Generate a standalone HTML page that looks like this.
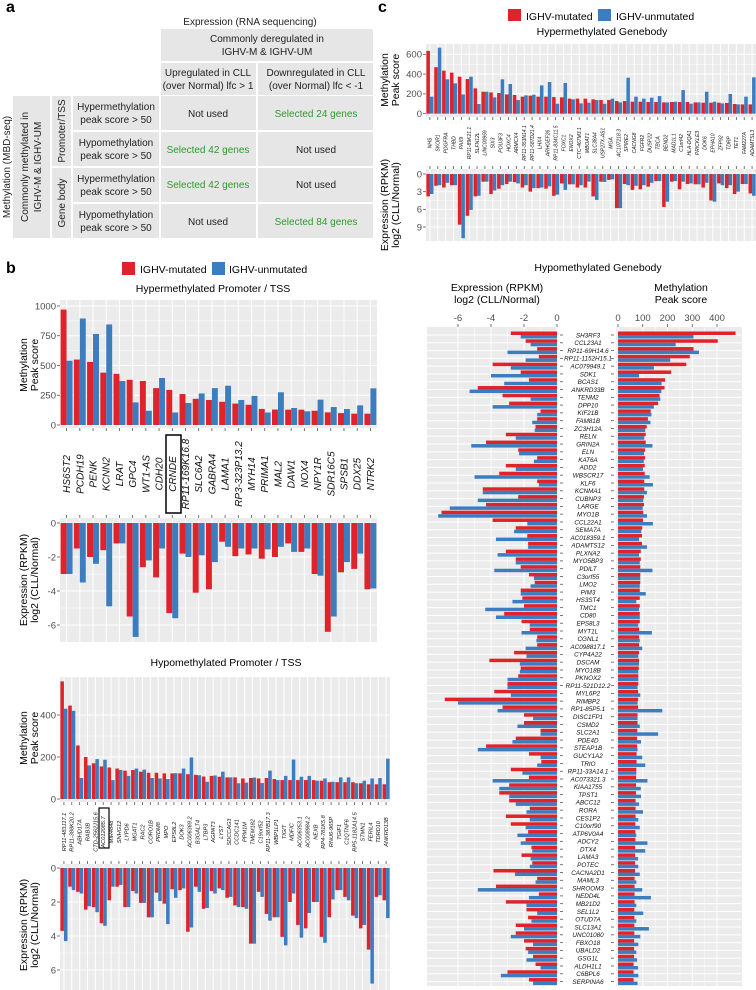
<!DOCTYPE html>
<html><head><meta charset="utf-8"><title>Methylation vs expression figure</title>
<style>
html,body{margin:0;padding:0;background:#fff;}
svg{display:block;font-family:"Liberation Sans",Arial,sans-serif;}
.tk{fill:#4d4d4d;font-size:9.5px;}
.ttl{fill:#000;font-size:10.5px;}
.cell{fill:#e6e6e6;}
.tb{font-size:10px;fill:#222;}
.gr{font-size:10px;fill:#2e9a2e;}
</style></head>
<body>
<svg id="fig" width="756" height="990" viewBox="0 0 756 990" xmlns="http://www.w3.org/2000/svg">
<g>
<text x="6" y="12" font-size="16" font-weight="bold">a</text>
<text x="250" y="25" text-anchor="middle" class="tb">Expression (RNA sequencing)</text>
<rect class="cell" x="161" y="29" width="212" height="32"/>
<text x="267" y="42" text-anchor="middle" class="tb">Commonly deregulated in</text>
<text x="267" y="55" text-anchor="middle" class="tb">IGHV-M &amp; IGHV-UM</text>
<rect class="cell" x="161" y="63" width="95" height="32"/>
<text x="208" y="76" text-anchor="middle" class="tb">Upregulated in CLL</text>
<text x="208" y="89" text-anchor="middle" class="tb">(over Normal) lfc &gt; 1</text>
<rect class="cell" x="258" y="63" width="115" height="32"/>
<text x="316" y="76" text-anchor="middle" class="tb">Downregulated in CLL</text>
<text x="316" y="89" text-anchor="middle" class="tb">(over Normal) lfc &lt; -1</text>
<text transform="translate(10,167) rotate(-90)" text-anchor="middle" class="tb">Methylation (MBD-seq)</text>
<rect class="cell" x="13" y="96" width="37" height="142"/>
<text transform="translate(28,167) rotate(-90)" text-anchor="middle" class="tb">Commonly methylated in</text>
<text transform="translate(41,167) rotate(-90)" text-anchor="middle" class="tb">IGHV-M &amp; IGHV-UM</text>
<rect class="cell" x="52" y="96" width="19" height="70"/>
<text transform="translate(65,131) rotate(-90)" text-anchor="middle" class="tb">Promoter/TSS</text>
<rect class="cell" x="52" y="168" width="19" height="70"/>
<text transform="translate(65,203) rotate(-90)" text-anchor="middle" class="tb">Gene body</text>
<g>
<rect class="cell" x="73" y="96" width="86" height="34"/><text x="116" y="110" text-anchor="middle" class="tb">Hypermethylation</text><text x="116" y="123" text-anchor="middle" class="tb">peak score &gt; 50</text>
<rect class="cell" x="161" y="96" width="95" height="34"/><text x="208" y="117" text-anchor="middle" class="tb">Not used</text>
<rect class="cell" x="258" y="96" width="115" height="34"/><text x="316" y="117" text-anchor="middle" class="gr">Selected 24 genes</text>
<rect class="cell" x="73" y="132" width="86" height="34"/><text x="116" y="146" text-anchor="middle" class="tb">Hypomethylation</text><text x="116" y="159" text-anchor="middle" class="tb">peak score &gt; 50</text>
<rect class="cell" x="161" y="132" width="95" height="34"/><text x="208" y="153" text-anchor="middle" class="gr">Selected 42 genes</text>
<rect class="cell" x="258" y="132" width="115" height="34"/><text x="316" y="153" text-anchor="middle" class="tb">Not used</text>
<rect class="cell" x="73" y="168" width="86" height="34"/><text x="116" y="182" text-anchor="middle" class="tb">Hypermethylation</text><text x="116" y="195" text-anchor="middle" class="tb">peak score &gt; 50</text>
<rect class="cell" x="161" y="168" width="95" height="34"/><text x="208" y="188" text-anchor="middle" class="gr">Selected 42 genes</text>
<rect class="cell" x="258" y="168" width="115" height="34"/><text x="316" y="188" text-anchor="middle" class="tb">Not used</text>
<rect class="cell" x="73" y="204" width="86" height="34"/><text x="116" y="218" text-anchor="middle" class="tb">Hypomethylation</text><text x="116" y="231" text-anchor="middle" class="tb">peak score &gt; 50</text>
<rect class="cell" x="161" y="204" width="95" height="34"/><text x="208" y="225" text-anchor="middle" class="tb">Not used</text>
<rect class="cell" x="258" y="204" width="115" height="34"/><text x="316" y="225" text-anchor="middle" class="gr">Selected 84 genes</text>
</g>
</g>
<text x="6" y="273" font-size="16" font-weight="bold">b</text>
<rect x="122" y="262" width="13" height="13" fill="#E0222A"/>
<text x="140" y="273" class="ttl">IGHV-mutated</text>
<rect x="212" y="262" width="13" height="13" fill="#3B7DBF"/>
<text x="229" y="273" class="ttl">IGHV-unmutated</text>
<text x="213" y="292" text-anchor="middle" class="ttl">Hypermethylated Promoter / TSS</text>
<text x="226" y="666" text-anchor="middle" class="ttl">Hypomethylated Promoter / TSS</text>
<text x="378" y="12" font-size="16" font-weight="bold">c</text>
<rect x="508" y="9" width="13" height="12" fill="#E0222A"/>
<text x="526" y="20" class="ttl">IGHV-mutated</text>
<rect x="598" y="9" width="13" height="12" fill="#3B7DBF"/>
<text x="616" y="20" class="ttl">IGHV-unmutated</text>
<text x="602" y="35" text-anchor="middle" class="ttl">Hypermethylated Genebody</text>
<text x="598" y="271" text-anchor="middle" class="ttl">Hypomethylated Genebody</text>
<text x="497" y="291" text-anchor="middle" class="ttl">Expression (RPKM)</text>
<text x="497" y="303" text-anchor="middle" class="ttl">log2 (CLL/Normal)</text>
<text x="681" y="291" text-anchor="middle" class="ttl">Methylation</text>
<text x="681" y="303" text-anchor="middle" class="ttl">Peak score</text>
</svg>
<script>
const bHyperGenes = ["HS6ST2","PCDH19","PENK","KCNN2","LRAT","GPC4","WT1-AS","CDH20","CRNDE","RP11-169K16.8","SLC6A2","GABRA4","LAMA1","RP3-323P13.2","MYH14","PRIMA1","MAL2","DAW1","NOX4","NPY1R","SDR16C5","SPSB1","DDX25","NTRK2"];
const bHyperMethRed = [970,550,530,440,430,380,370,310,295,260,220,210,195,180,170,135,130,129,129,120,106,100,95,95];
const bHyperMethBlue = [540,895,765,845,370,190,120,395,105,185,265,310,330,210,245,105,275,143,115,213,151,134,165,308];
const bHyperExprRed = [-3.0,-1.5,-2.0,-1.6,-1.2,-5.5,-2.6,-3.2,-5.3,-1.8,-4.1,-3.9,-1.1,-1.95,-1.85,-2.1,-2.0,-1.2,-1.7,-3.0,-6.4,-2.9,-2.7,-3.9];
const bHyperExprBlue = [-3.0,-3.5,-2.4,-4.9,-1.2,-6.7,-2.2,-1.5,-5.6,-2.0,-1.9,-2.3,-1.4,-1.5,-1.5,-1.55,-1.4,-1.7,-1.5,-3.1,-5.5,-2.3,-1.8,-3.85];
const bHyperMethTicks = [0,250,500,750,1000];
const bHyperExprTicks = [0,-2,-4,-6];
const bHypoGenes = ["RP11-483J17.1","RP11-388K20.2","ABHD17A","RAB3B","CTD-2562J15.6","AC012085.7","MIR4848","SNHG12","LYPD6","MGAT1","RAC2","CORO1B","PRDM8","MPO","EPS8L2","DOK3","AC006369.2","B3GALT4","LTBP3","AGPAT3","LYST","SDCCAG3","CCDC141","PPM1M","TMEM182","C19orf52","RP11-387B17.3","WBP1LP1","TIGIT","MDFIC","AC006353.1","AC008984.2","NEXB","RP4-781K5.8","RNU6-965P","TGIF1","C1QTNF6","RP5-1182A14.5","STMN1","FERIL4","TDRD10","ANKRD13B"];
const bHypoMethRed = [560,445,255,200,170,155,150,145,135,138,130,125,125,122,122,122,118,115,107,110,106,103,103,98,100,98,100,95,90,90,90,90,90,87,80,80,80,80,75,70,70,70];
const bHypoMethBlue = [430,420,100,160,190,187,90,138,110,145,140,100,98,95,123,145,198,113,82,112,130,103,75,78,102,76,135,90,110,188,106,110,87,98,82,103,103,75,87,98,100,192];
const bHypoExprRed = [3.7,1.1,1.4,2.45,2.3,3.25,1.9,1.1,2.3,1.35,2.05,2.9,1.45,2.1,1.25,1.3,3.75,1.1,2.4,1.35,1.2,1.75,2.2,2.3,4.45,1.4,2.7,2.9,4.05,2.0,3.35,3.55,2.0,4.05,2.9,1.3,1.7,2.8,3.55,4.8,1.7,1.9];
const bHypoExprBlue = [4.3,1.3,1.5,2.25,2.6,3.4,1.1,1.0,2.3,1.5,2.05,2.9,1.95,3.3,1.75,1.2,3.5,1.4,2.35,1.5,1.3,1.7,2.3,2.4,4.45,1.7,3.1,2.9,4.55,1.5,4.1,2.65,2.0,4.4,1.85,1.3,1.9,2.95,3.35,6.8,1.6,2.95];
const bHypoMethTicks = [0,200,400];
const bHypoExprTicks = [0,2,4,6];
const cHyperGenes = ["NHS","SKOR1","PDGFRA","THBD","PAX9","RP11-89K21.1","SLFN12L","LINC00959","SIX3","POU3F3","HOXC4","ARMCX4","RP11-353N14.1","RP11-587D21.4","LHX4","ARHGEF26","RP11-834C11.5","FOXC1","ENOX2","CTC-467M3.1","MBOAT1","SLC38A4","USP27X-AS1","MGA","AC107218.3","SPIRE2","CACNG8","FGFR2","DUSP22","TBCA","BEND2","MAD1L1","C1orf42","HLA-DQA1","PRICKLE3","DOK6","EPHA10","ZFP92","TDRP","TET1","FAM227A","ADAMTSL3"];
const cHyperMethRed = [635,470,435,415,374,350,256,222,215,209,195,189,172,182,172,172,168,165,152,152,152,145,138,138,128,128,121,121,118,118,114,118,118,118,114,111,111,111,108,98,94,94];
const cHyperMethBlue = [172,667,347,306,195,374,98,222,165,347,300,138,185,192,286,320,101,310,145,104,111,138,101,152,114,364,172,152,162,178,114,121,239,101,114,222,121,104,199,94,172,367];
const cHyperExprRed = [3.8,2.0,2.3,1.9,8.6,7.1,3.8,1.3,3.4,2.5,1.7,1.4,2.3,3.0,2.4,2.5,3.7,1.6,1.75,2.3,2.3,3.8,1.3,1.0,5.8,1.7,2.7,2.6,2.15,1.2,5.6,1.3,2.6,1.7,1.75,2.3,4.5,1.6,2.4,3.4,1.7,3.3];
const cHyperExprBlue = [3.4,1.9,1.5,1.9,10.9,6.1,3.7,1.3,2.8,1.9,1.3,1.6,1.9,2.4,2.3,2.1,3.5,2.7,1.75,1.9,1.3,4.4,1.35,0.9,5.8,1.9,2.0,1.9,1.5,1.2,4.7,1.2,1.3,1.6,1.75,1.5,4.7,1.9,1.9,3.0,1.7,3.7];
const cHyperMethTicks = [0,200,400,600];
const cHyperExprTicks = [0,3,6,9];
const cHypoGenes = ["SH3RF3","CCL23A1","RP11-69H14.6","RP11-1152H15.1","AC079949.1","SDK1","BCAS1","ANKRD33B","TENM2","DPP10","KIF21B","FAM81B","ZC3H12A","RELN","GRIN2A","ELN","KAT6A","ADD2","WBSCR17","KLF6","KCNMA1","CUBNP3","LARGE","MYO1B","CCL22A1","SEMA7A","AC018359.1","ADAMTS12","PLXNA2","MYO5BP3","PDILT","C3orf55","LMO2","PIM3","HS3ST4","TMC1","CD80","EPS8L3","MYT1L","CGNL1","AC098817.1","CYP4A22","DSCAM","MYO18B","PKNOX2","RP11-521D12.2","MYL6P2","RIMBP2","RP1-85P5.1","DISC1FP1","CSMD2","SLC2A1","PDE4D","STEAP1B","GUCY1A2","TRIO","RP11-33A14.1","AC073321.3","KIAA1755","TPST1","ABCC12","RORA","CES1P2","C10orf90","ATP6V0A4","ADCY2","DTX4","LAMA3","POTEC","CACNA2D1","MAML3","SHROOM3","NEDD4L","MB21D2","SEL1L2","OTUD7A","SLC13A1","UNC01080","FBXO18","UBALD2","GSG1L","ALDH1L1","C6BPL6","SERPINA6"];
const cHypoExprRed = [-2.8,-1.9,-1.2,-1.1,-3.9,-2.2,-1.7,-4.8,-3.3,-2.9,-1.0,-1.2,-1.3,-3.1,-4.3,-2.35,-1.2,-3.1,-3.5,-1.2,-4.5,-2.35,-4.3,-7.0,-3.9,-2.5,-1.8,-1.75,-3.1,-2.5,-2.2,-1.7,-1.35,-2.2,-2.1,-2.0,-3.2,-2.15,-1.65,-1.2,-1.2,-2.6,-4.1,-2.2,-2.35,-3.0,-3.8,-6.8,-3.3,-2.0,-2.0,-1.0,-2.5,-4.3,-1.7,-0.95,-2.8,-1.7,-2.9,-3.5,-2.9,-1.65,-3.1,-2.8,-1.75,-1.9,-1.55,-2.15,-1.5,-3.85,-1.2,-3.7,-1.1,-3.1,-1.85,-1.75,-2.5,-2.5,-2.0,-1.9,-1.45,-1.3,-3.0,-1.7];
const cHypoExprBlue = [-2.2,-1.6,-3.0,-1.9,-2.8,-4.0,-3.2,-5.3,-1.6,-3.9,-1.2,-1.5,-1.35,-2.5,-5.2,-2.3,-1.4,-2.5,-5.0,-1.1,-4.5,-4.8,-6.5,-7.2,-1.8,-2.6,-3.7,-1.75,-3.6,-2.5,-3.8,-1.4,-1.6,-2.2,-2.7,-4.35,-3.7,-1.65,-2.15,-1.25,-1.9,-1.85,-2.25,-2.25,-3.0,-3.0,-2.8,-6.0,-3.6,-1.45,-2.4,-1.0,-2.7,-4.8,-1.0,-1.2,-2.1,-3.9,-3.5,-2.9,-2.5,-1.85,-1.65,-1.9,-2.4,-2.2,-1.5,-1.6,-1.65,-2.55,-1.3,-4.8,-1.7,-1.85,-1.2,-1.55,-2.0,-2.8,-1.45,-1.75,-1.85,-1.0,-3.4,-1.45];
const cHypoMethRed = [475,403,305,290,276,215,190,188,168,162,132,121,116,112,112,109,109,108,108,106,106,105,105,102,101,98,97,97,92,92,90,90,90,88,88,88,88,88,85,85,85,85,85,84,82,82,81,81,81,79,79,78,77,77,75,75,74,73,73,73,71,71,71,70,70,70,69,69,69,69,67,67,67,67,66,66,66,66,65,65,65,63,63,63];
const cHypoMethBlue = [305,233,327,211,145,85,176,175,171,145,135,131,110,106,139,105,104,101,128,141,117,102,100,117,141,94,85,117,85,88,139,90,88,112,74,85,88,82,137,88,98,82,85,82,82,79,90,79,179,79,88,162,93,79,98,110,74,119,92,93,85,101,82,88,74,119,110,81,82,88,74,98,133,74,102,74,125,90,82,74,77,81,82,79];
const cHypoExprTicks = [-6,-4,-2,0];
const cHypoMethTicks = [0,100,200,300,400];

const NS = "http://www.w3.org/2000/svg";
const svg = document.getElementById('fig');
const RED = "#E0222A", BLUE = "#3B7DBF", BG = "#EBEBEB";
function mk(tag, a, parent){const e=document.createElementNS(NS,tag);for(const k in a)e.setAttribute(k,a[k]);(parent||svg).appendChild(e);return e;}
function txt(x,y,s,a,parent){const e=mk('text',Object.assign({x:x,y:y},a||{}),parent);e.textContent=s;return e;}
function lin(d0,d1,r0,r1){return function(v){return r0+(v-d0)*(r1-r0)/(d1-d0);};}

function vchart(o){
  const g = mk('g',{});
  
  
  const bg = mk('rect',{x:o.x0,y:o.y0,width:o.x1-o.x0,height:o.y1-o.y0,fill:BG},g);
  
  
  const s = lin(o.d0,o.d1,o.r0,o.r1);
  for(let i=0;i<o.ticks.length-1;i++){
    const y = s((o.ticks[i]+o.ticks[i+1])/2);
    if(y>o.y0 && y<o.y1) mk('line',{x1:o.x0,x2:o.x1,y1:y,y2:y,stroke:'#fff','stroke-width':0.5},g);
  }
  const n = o.genes.length, band=(o.x1-o.x0)/n, bw=band*0.45;
  for(let i=0;i<n;i++){const cx=o.x0+(i+0.5)*band;mk('line',{x1:cx,x2:cx,y1:o.y0,y2:o.y1,stroke:'#fff','stroke-width':1},g);}
  o.ticks.forEach(function(t){
    const y=s(t);
    mk('line',{x1:o.x0,x2:o.x1,y1:y,y2:y,stroke:'#fff','stroke-width':1},g);
    mk('line',{x1:o.x0-3,x2:o.x0,y1:y,y2:y,stroke:'#555','stroke-width':0.8},g);
    const lb = txt(o.x0-4,y+3.3,String(t),{'text-anchor':'end','class':'tk'},g);
    
    
  });
  const z = s(0);
  for(let i=0;i<n;i++){
    const cx=o.x0+(i+0.5)*band;
    const yr=s(o.red[i]), yb=s(o.blue[i]);
    const r = mk('rect',{x:cx-bw,y:Math.min(z,yr),width:bw,height:Math.abs(yr-z),fill:RED},g);
    
    
    const b = mk('rect',{x:cx,y:Math.min(z,yb),width:bw,height:Math.abs(yb-z),fill:BLUE},g);
    
    
    const ty = o.tickSide==='top'? o.y0 : o.y1;
    mk('line',{x1:cx,x2:cx,y1:o.tickSide==='top'?ty-3:ty,y2:o.tickSide==='top'?ty:ty+3,stroke:'#555','stroke-width':0.8},g);
    if(o.labelY){
      const t = txt(0,0,o.genes[i],{transform:'translate('+(cx+o.lfs*0.35)+','+o.labelY+') rotate(-90)','text-anchor':'middle','font-style':'italic','font-size':o.lfs,fill:'#111'},g);
      
      
    }
  }
  if(o.title){
    const t1 = txt(0,0,o.title[0],{transform:'translate('+o.titleX+','+o.titleY+') rotate(-90)','text-anchor':'middle','class':'ttl'},g);
    
    
    const t2 = txt(0,0,o.title[1],{transform:'translate('+(o.titleX+11)+','+o.titleY+') rotate(-90)','text-anchor':'middle','class':'ttl'},g);
    
    
  }
}

function hchart(o){
  const g = mk('g',{});
  
  
  const bg = mk('rect',{x:o.x0,y:o.y0,width:o.x1-o.x0,height:o.y1-o.y0,fill:BG},g);
  
  
  const s = lin(o.d0,o.d1,o.r0,o.r1);
  for(let i=0;i<o.ticks.length-1;i++){
    const x = s((o.ticks[i]+o.ticks[i+1])/2);
    mk('line',{y1:o.y0,y2:o.y1,x1:x,x2:x,stroke:'#fff','stroke-width':0.5},g);
  }
  o.ticks.forEach(function(t){
    const x=s(t);
    mk('line',{y1:o.y0,y2:o.y1,x1:x,x2:x,stroke:'#fff','stroke-width':1},g);
    mk('line',{y1:o.y0-3,y2:o.y0,x1:x,x2:x,stroke:'#555','stroke-width':0.8},g);
    const lb = txt(x,o.y0-6,String(t),{'text-anchor':'middle','class':'tk'},g);
    
    
  });
  const n=o.genes.length, z=s(0);
  for(let i=0;i<n;i++){
    const cy=o.c0+i*o.step;
    mk('line',{x1:o.x0,x2:o.x1,y1:cy,y2:cy,stroke:'#fff','stroke-width':1},g);
  }
  for(let i=0;i<n;i++){
    const cy=o.c0+i*o.step, bh=o.step*0.45;
    const xr=s(o.red[i]), xb=s(o.blue[i]);
    const r = mk('rect',{y:cy-bh,x:Math.min(z,xr),height:bh,width:Math.abs(xr-z),fill:RED},g);
    
    
    const b = mk('rect',{y:cy,x:Math.min(z,xb),height:bh,width:Math.abs(xb-z),fill:BLUE},g);
    
    
    const tx = o.side==='right'? o.x1 : o.x0;
    mk('line',{y1:cy,y2:cy,x1:o.side==='right'?tx+2:tx-5,x2:o.side==='right'?tx+5:tx-2,stroke:'#555','stroke-width':0.8},g);
  }
}

vchart({name:'hyper-promoter-methylation',genes:bHyperGenes,red:bHyperMethRed,blue:bHyperMethBlue,x0:60,x1:377,y0:300,y1:428,d0:0,d1:1000,r0:425,r1:306,ticks:bHyperMethTicks,tickSide:'bottom',labelY:474,lfs:10,title:['Methylation','Peak score'],titleX:27,titleY:365});
vchart({name:'hyper-promoter-expression',genes:bHyperGenes,red:bHyperExprRed,blue:bHyperExprBlue,x0:60,x1:377,y0:518,y1:642,d0:0,d1:-6,r0:523,r1:625,ticks:bHyperExprTicks,tickSide:'top',title:['Expression (RPKM)','log2 (CLL/Normal)'],titleX:27,titleY:580});
vchart({name:'hypo-promoter-methylation',genes:bHypoGenes,red:bHypoMethRed,blue:bHypoMethBlue,x0:60,x1:390,y0:677,y1:802,d0:0,d1:400,r0:799,r1:715,ticks:bHypoMethTicks,tickSide:'bottom',labelY:832,lfs:5.6,title:['Methylation','Peak score'],titleX:27,titleY:738});
vchart({name:'hypo-promoter-expression',genes:bHypoGenes,red:bHypoExprRed,blue:bHypoExprBlue,x0:60,x1:390,y0:864,y1:990,d0:0,d1:6,r0:868,r1:970,ticks:bHypoExprTicks,tickSide:'top',title:['Expression (RPKM)','log2 (CLL/Normal)'],titleX:27,titleY:925});
vchart({name:'hyper-genebody-methylation',genes:cHyperGenes,red:cHyperMethRed,blue:cHyperMethBlue,x0:426,x1:756,y0:44,y1:117,d0:0,d1:600,r0:113.7,r1:54.3,ticks:cHyperMethTicks,tickSide:'bottom',labelY:143,lfs:5,title:['Methylation','Peak score'],titleX:388,titleY:80});
vchart({name:'hyper-genebody-expression',genes:cHyperGenes,red:cHyperExprRed,blue:cHyperExprBlue,x0:426,x1:756,y0:169,y1:241,d0:0,d1:9,r0:174,r1:227,ticks:cHyperExprTicks,tickSide:'top',title:['Expression (RPKM)','log2 (CLL/Normal)'],titleX:388,titleY:205});
hchart({name:'hypo-genebody-expression',genes:cHypoGenes,red:cHypoExprRed,blue:cHypoExprBlue,x0:427,x1:558,y0:327,y1:986,d0:0,d1:-6,r0:557,r1:458,ticks:cHypoExprTicks,c0:335,step:7.79,side:'right'});
hchart({name:'hypo-genebody-methylation',genes:cHypoGenes,red:cHypoMethRed,blue:cHypoMethBlue,x0:616,x1:742,y0:327,y1:986,d0:0,d1:400,r0:618,r1:717,ticks:cHypoMethTicks,c0:335,step:7.79,side:'left'});
for(let i=0;i<cHypoGenes.length;i++){
  const t = txt(588,335+i*7.79+2.3,cHypoGenes[i],{'text-anchor':'middle','font-style':'italic','font-size':6.3,fill:'#111'});
  
  
}
const box1 = mk('rect',{x:166,y:435,width:15,height:78,fill:'none',stroke:'#000','stroke-width':1.5});


const box2 = mk('rect',{x:99,y:808,width:10,height:40,fill:'none',stroke:'#000','stroke-width':1.2});


</script>
</body></html>
